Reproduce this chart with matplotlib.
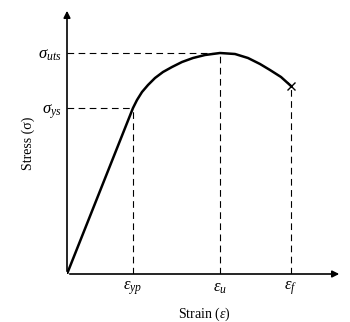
import matplotlib.pyplot as plt

plt.rcParams['font.family'] = 'Liberation Serif'
plt.rcParams['mathtext.fontset'] = 'custom'
plt.rcParams['mathtext.rm'] = 'Liberation Serif'
plt.rcParams['mathtext.it'] = 'Liberation Serif:italic'

# stress-strain curve (arbitrary units)
strain = [0, 66, 70, 75, 81, 88, 96, 105, 115, 126, 138, 153, 168, 181, 193, 203, 214, 224]
stress = [0, 166, 174, 182, 189, 196, 202, 207, 212, 216, 219, 221, 220, 216, 210, 204, 197, 188]

eps_yp, eps_u, eps_f = 66, 153, 224
sig_ys, sig_uts, sig_f = 166, 221, 188

xlabels = [r'$\varepsilon_{yp}$', r'$\varepsilon_{u}$', r'$\varepsilon_{f}$']
ylabels = [r'$\sigma_{ys}$', r'$\sigma_{uts}$']

fig = plt.figure(figsize=(3.5, 3.22), dpi=100)
ax = fig.add_axes([67/350, 48/322, 275/350, 266/322])
ax.set_xlim(0, 275)
ax.set_ylim(0, 266)

# dashed guide lines
dash = dict(color='black', lw=0.8, ls=(0, (6, 4)))
ax.plot([0, eps_yp], [sig_ys, sig_ys], **dash)
ax.plot([eps_yp, eps_yp], [0, sig_ys], **dash)
ax.plot([0, eps_u], [sig_uts, sig_uts], **dash)
ax.plot([eps_u, eps_u], [0, sig_uts], **dash)
ax.plot([eps_f, eps_f], [0, sig_f], **dash)

# the curve
ax.plot(strain, stress, color='black', lw=1.8, solid_capstyle='round',
        solid_joinstyle='round')
ax.plot([eps_f], [sig_f], marker='x', color='black', ms=6, mew=1)

# axes with arrows
for s in ax.spines.values():
    s.set_visible(False)
ax.annotate('', xy=(275, 0), xytext=(0, 0),
            arrowprops=dict(arrowstyle='-|>', color='black', lw=1.2, mutation_scale=10),
            annotation_clip=False)
ax.annotate('', xy=(0, 266), xytext=(0, 0),
            arrowprops=dict(arrowstyle='-|>', color='black', lw=1.2, mutation_scale=10),
            annotation_clip=False)

ax.set_xticks([eps_yp, eps_u, eps_f])
ax.set_xticklabels(xlabels, fontsize=12)
ax.set_yticks([sig_ys, sig_uts])
ax.set_yticklabels(ylabels, fontsize=12)
ax.tick_params(length=0, pad=4)

ax.set_xlabel(r'Strain ($\varepsilon$)', fontsize=10, labelpad=6)
ax.set_ylabel('Stress (σ)', fontsize=10)
ax.yaxis.set_label_coords(-0.115, 0.49)

plt.savefig('out.png', dpi=100)
